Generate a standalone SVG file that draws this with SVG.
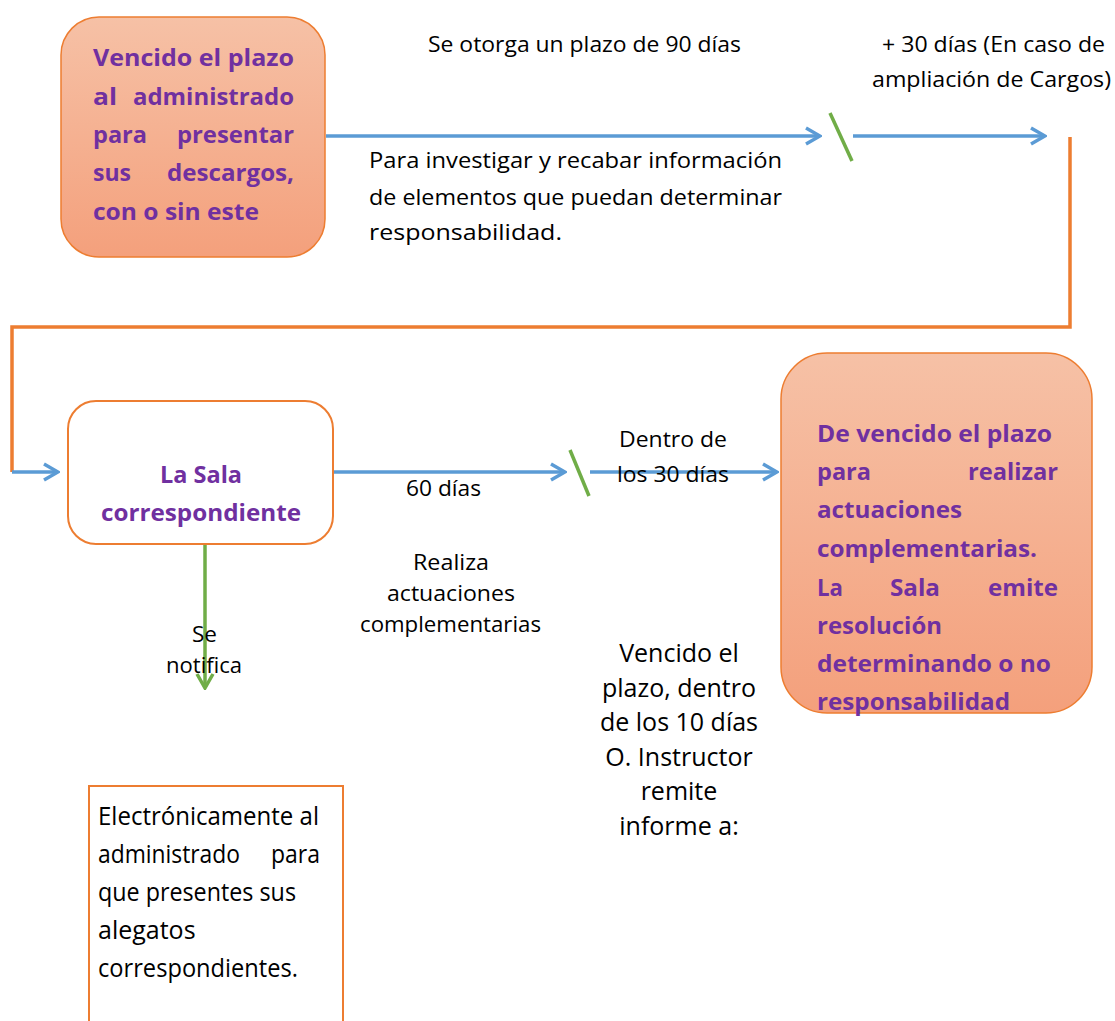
<svg xmlns="http://www.w3.org/2000/svg" width="1115" height="1021" viewBox="0 0 1115 1021">
<defs>
<linearGradient id="g" x1="0" y1="0" x2="0" y2="1">
<stop offset="0" stop-color="#f6c1a6"/>
<stop offset="1" stop-color="#f4a07c"/>
</linearGradient>
<marker id="ab" viewBox="0 0 20 20" refX="18" refY="10" markerWidth="20" markerHeight="20" markerUnits="userSpaceOnUse" orient="auto">
<path d="M4 2 L18 10 L4 18" fill="none" stroke="#5b9bd5" stroke-width="3.5"/>
</marker>
<marker id="ag" viewBox="0 0 20 20" refX="18" refY="10" markerWidth="20" markerHeight="20" markerUnits="userSpaceOnUse" orient="auto">
<path d="M4 2 L18 10 L4 18" fill="none" stroke="#70ad47" stroke-width="3.5"/>
</marker>
</defs>
<style>
.b{font-family:"Open Sans","Liberation Sans",sans-serif;font-weight:bold;font-size:24px;fill:#7030a0}
.r{font-family:"Open Sans","Liberation Sans",sans-serif;font-size:25px;fill:#000}
.c{font-family:"Open Sans","Liberation Sans",sans-serif;font-size:22px;fill:#000}
.bl{fill:none;stroke:#5b9bd5;stroke-width:3.5}
.gr{fill:none;stroke:#70ad47;stroke-width:3.5}
.or{fill:none;stroke:#ed7d31;stroke-width:3.5}
</style>
<g id="connectors">
<line class="bl" x1="326" y1="136" x2="820" y2="136" marker-end="url(#ab)"/>
<line class="gr" x1="830" y1="113" x2="852" y2="161"/>
<line class="bl" x1="853" y1="136" x2="1045" y2="136" marker-end="url(#ab)"/>
<path class="or" d="M1070 137 V327 H12 V472"/>
<line class="bl" x1="12" y1="472" x2="58" y2="472" marker-end="url(#ab)"/>
<line class="bl" x1="326" y1="472" x2="565" y2="472" marker-end="url(#ab)"/>
<line class="gr" x1="570" y1="450" x2="589" y2="496"/>
<line class="bl" x1="590" y1="472" x2="777" y2="472" marker-end="url(#ab)"/>
<line class="gr" x1="205" y1="545" x2="205" y2="688" marker-end="url(#ag)"/>
</g>
<g id="node1">
<rect x="61" y="17" width="264" height="240" rx="38" fill="url(#g)" stroke="#ed7d31" stroke-width="1.5"/>
<text class="b">
<tspan x="93" y="66" textLength="201" lengthAdjust="spacingAndGlyphs">Vencido el plazo</tspan>
<tspan x="93" y="105" textLength="24" lengthAdjust="spacingAndGlyphs">al</tspan>
<tspan x="133" y="105" textLength="161" lengthAdjust="spacingAndGlyphs">administrado</tspan>
<tspan x="93" y="143" textLength="54" lengthAdjust="spacingAndGlyphs">para</tspan>
<tspan x="177" y="143" textLength="117" lengthAdjust="spacingAndGlyphs">presentar</tspan>
<tspan x="93" y="181" textLength="38" lengthAdjust="spacingAndGlyphs">sus</tspan>
<tspan x="167" y="181" textLength="127" lengthAdjust="spacingAndGlyphs">descargos,</tspan>
<tspan x="93" y="220" textLength="166" lengthAdjust="spacingAndGlyphs">con o sin este</tspan>
</text>
</g>
<g id="labels-top">
<text class="c" x="428" y="52" textLength="313" lengthAdjust="spacingAndGlyphs">Se otorga un plazo de 90 días</text>
<text class="c" x="882" y="52" textLength="223" lengthAdjust="spacingAndGlyphs">+ 30 días (En caso de</text>
<text class="c" x="872" y="87" textLength="239" lengthAdjust="spacingAndGlyphs">ampliación de Cargos)</text>
<text class="c"><tspan x="369" y="168" textLength="413" lengthAdjust="spacingAndGlyphs">Para investigar y recabar información</tspan><tspan x="369" y="205" textLength="413" lengthAdjust="spacingAndGlyphs">de elementos que puedan determinar</tspan><tspan x="369" y="240" textLength="193" lengthAdjust="spacingAndGlyphs">responsabilidad.</tspan></text>
</g>
<g id="node2">
<rect x="68" y="401" width="265" height="143" rx="28" fill="#fff" stroke="#ed7d31" stroke-width="2"/>
<text class="b"><tspan x="160" y="483" textLength="82" lengthAdjust="spacingAndGlyphs">La Sala</tspan><tspan x="101" y="521" textLength="200" lengthAdjust="spacingAndGlyphs">correspondiente</tspan></text>
</g>
<g id="labels-mid">
<text class="c"><tspan x="619" y="447" textLength="108" lengthAdjust="spacingAndGlyphs">Dentro de</tspan><tspan x="617" y="482" textLength="112" lengthAdjust="spacingAndGlyphs">los 30 días</tspan></text>
<text class="c" x="406" y="496" textLength="75" lengthAdjust="spacingAndGlyphs">60 días</text>
<text class="c"><tspan x="413" y="570" textLength="76" lengthAdjust="spacingAndGlyphs">Realiza</tspan><tspan x="387" y="601" textLength="128" lengthAdjust="spacingAndGlyphs">actuaciones</tspan><tspan x="360" y="632" textLength="181" lengthAdjust="spacingAndGlyphs">complementarias</tspan></text>
<text class="c"><tspan x="192" y="642" textLength="25" lengthAdjust="spacingAndGlyphs">Se</tspan><tspan x="166" y="673" textLength="76" lengthAdjust="spacingAndGlyphs">notifica</tspan></text>
<text class="r" text-anchor="middle"><tspan x="679" y="662">Vencido el</tspan><tspan x="679" y="697">plazo, dentro</tspan><tspan x="679" y="731">de los 10 días</tspan><tspan x="679" y="766">O. Instructor</tspan><tspan x="679" y="800">remite</tspan><tspan x="679" y="835">informe a:</tspan></text>
</g>
<g id="node3">
<rect x="781" y="353" width="311" height="360" rx="46" fill="url(#g)" stroke="#ed7d31" stroke-width="1.5"/>
<text class="b">
<tspan x="817" y="442" textLength="235" lengthAdjust="spacingAndGlyphs">De vencido el plazo</tspan>
<tspan x="817" y="480" textLength="54" lengthAdjust="spacingAndGlyphs">para</tspan>
<tspan x="968" y="480" textLength="90" lengthAdjust="spacingAndGlyphs">realizar</tspan>
<tspan x="817" y="518" textLength="145" lengthAdjust="spacingAndGlyphs">actuaciones</tspan>
<tspan x="817" y="557" textLength="220" lengthAdjust="spacingAndGlyphs">complementarias.</tspan>
<tspan x="817" y="596" textLength="26" lengthAdjust="spacingAndGlyphs">La</tspan>
<tspan x="890" y="596" textLength="50" lengthAdjust="spacingAndGlyphs">Sala</tspan>
<tspan x="988" y="596" textLength="70" lengthAdjust="spacingAndGlyphs">emite</tspan>
<tspan x="817" y="634" textLength="125" lengthAdjust="spacingAndGlyphs">resolución</tspan>
<tspan x="817" y="672" textLength="234" lengthAdjust="spacingAndGlyphs">determinando o no</tspan>
<tspan x="817" y="710" textLength="193" lengthAdjust="spacingAndGlyphs">responsabilidad</tspan>
</text>
</g>
<g id="node4">
<path d="M89 1021 V786 H343 V1021" fill="#fff" stroke="#ed7d31" stroke-width="2"/>
<text class="r">
<tspan x="98" y="825" textLength="221" lengthAdjust="spacingAndGlyphs">Electrónicamente al</tspan>
<tspan x="98" y="863" textLength="142" lengthAdjust="spacingAndGlyphs">administrado</tspan>
<tspan x="271" y="863" textLength="49" lengthAdjust="spacingAndGlyphs">para</tspan>
<tspan x="98" y="901" textLength="198" lengthAdjust="spacingAndGlyphs">que presentes sus</tspan>
<tspan x="98" y="939">alegatos</tspan>
<tspan x="98" y="977" textLength="200" lengthAdjust="spacingAndGlyphs">correspondientes.</tspan>
</text>
</g>
</svg>
